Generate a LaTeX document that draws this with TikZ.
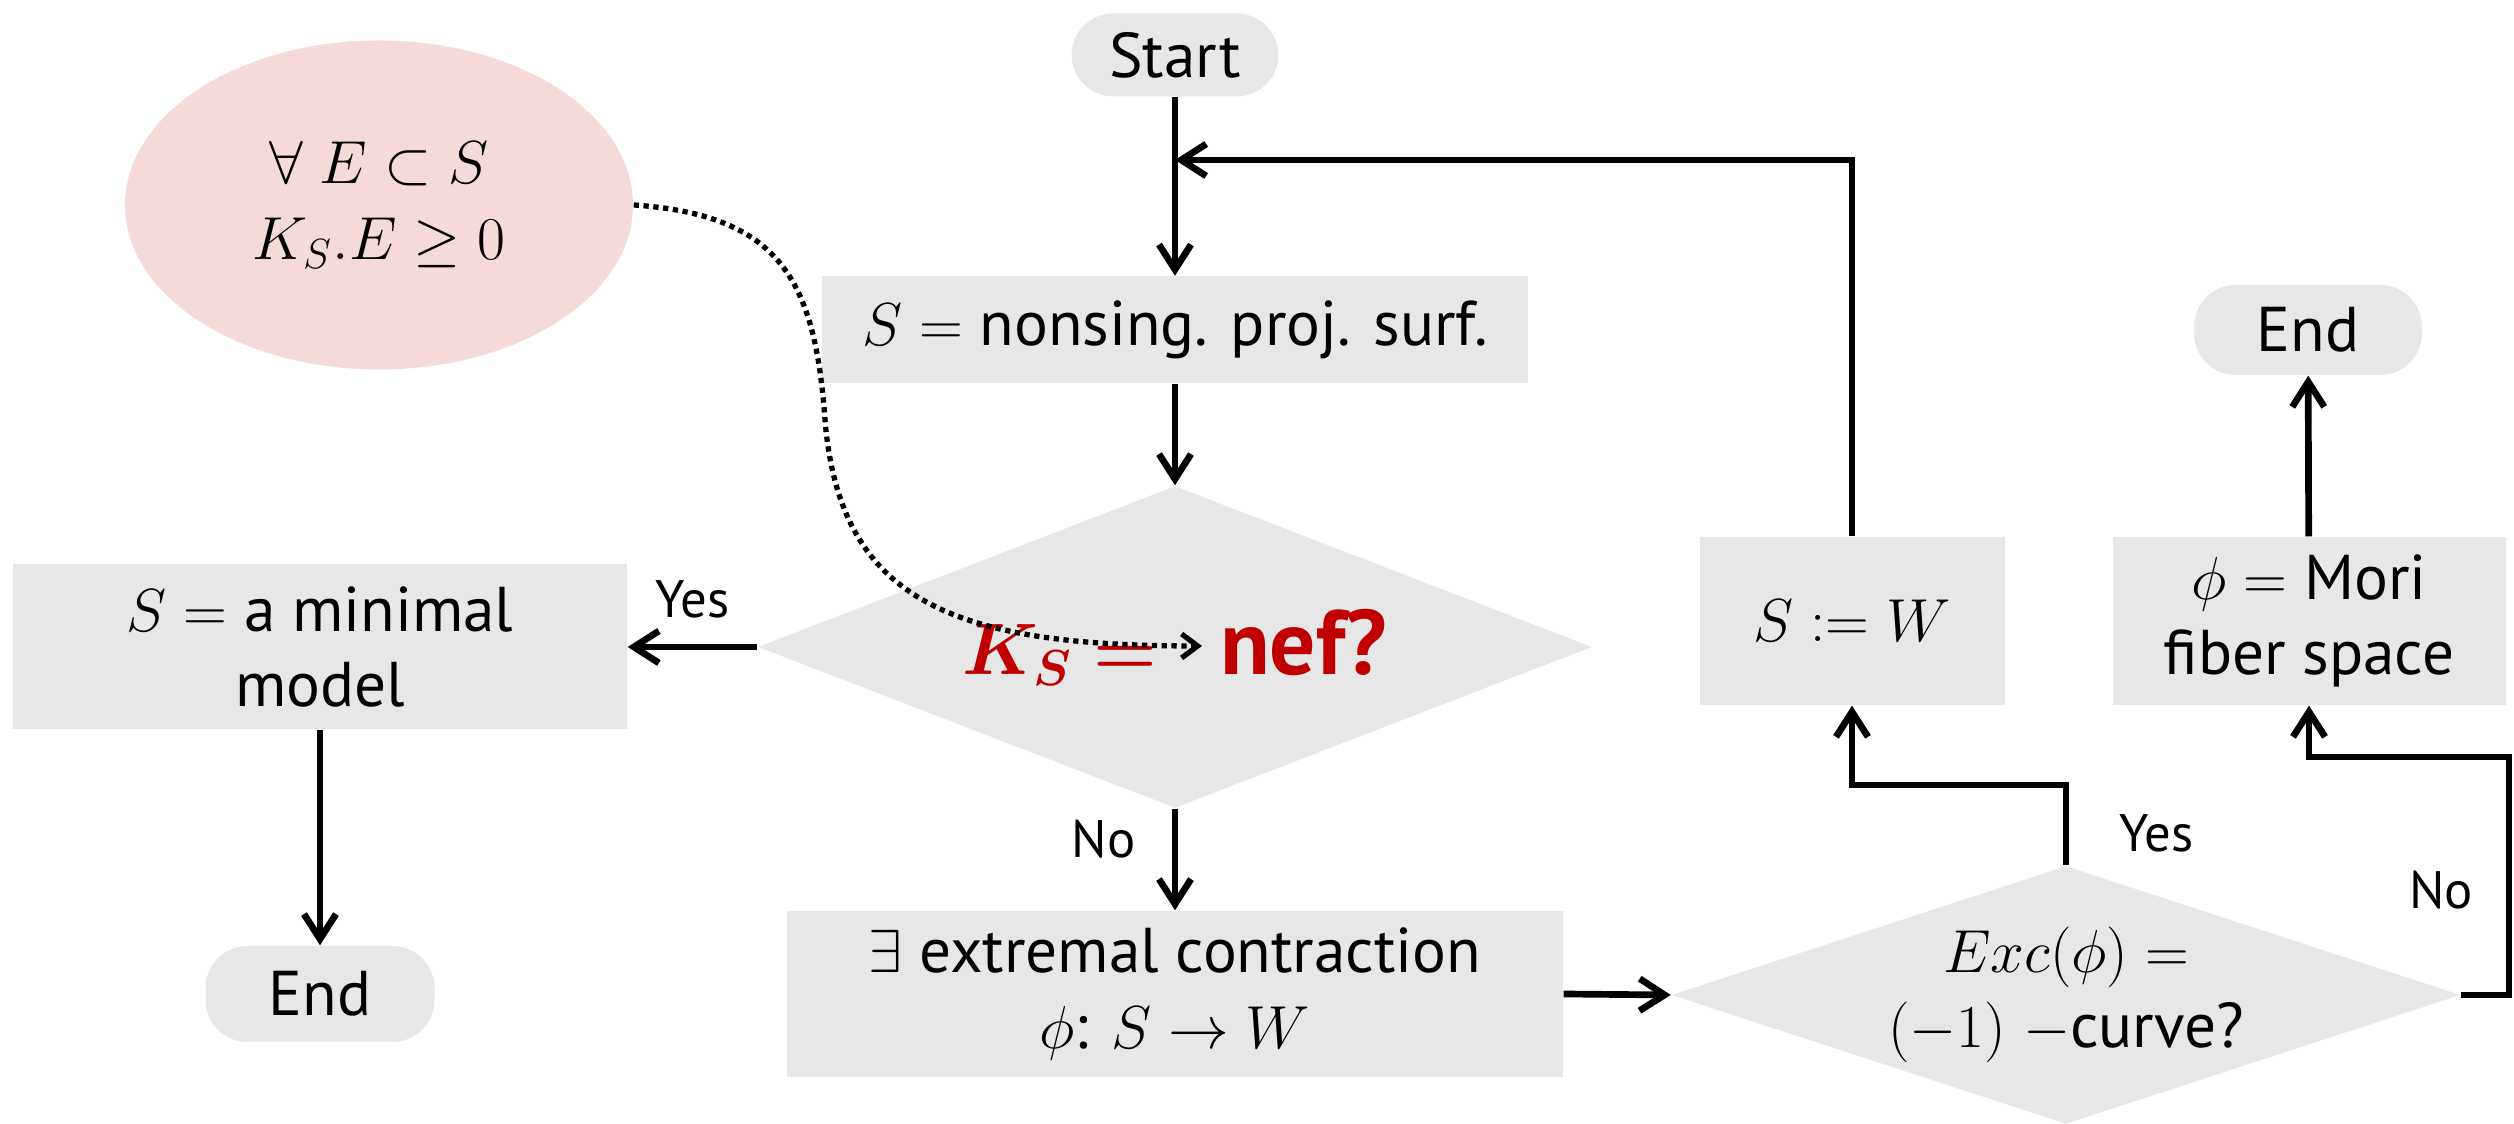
\documentclass[tikz,border=0pt]{standalone}
\usepackage[no-math]{fontspec}
\setmainfont{PT Sans}
\usepackage{amsmath}
\usepackage{amssymb}
\usepackage{bm}
\usepackage{xcolor}
\usepackage{tikz}
\usetikzlibrary{arrows.meta,positioning,shapes.geometric,calc}
\definecolor{chartGray}{RGB}{231,231,231}
\definecolor{condPink}{RGB}{245,218,218}
\definecolor{nefRed}{RGB}{192,0,0}
\newcommand{\bodyfont}{\fontsize{18}{21.5}\selectfont}

\begin{document}
\begin{tikzpicture}[
    box/.style={fill=chartGray, align=center, inner sep=0pt, font=\bodyfont},
    pill/.style={fill=chartGray, rounded corners=0.42cm, inner sep=0pt, font=\bodyfont},
    decision/.style={diamond, fill=chartGray, align=center, inner sep=0pt},
    flow/.style={line width=1.9pt, -{Straight Barb[length=2.5mm,width=3.2mm]}},
    dotflow/.style={line width=1.5pt, dash pattern=on 1.5pt off 1.3pt, -{Straight Barb[length=1.6mm,width=2.4mm]}},
    lbl/.style={font=\fontsize{15}{17}\selectfont},
]
    \useasboundingbox (0,0) rectangle (25.14,11.24);

    \node[pill, minimum width=2.07cm, minimum height=0.83cm] (start) at (11.75,10.69) {Start};
    \node[box, minimum width=7.06cm, minimum height=1.07cm] (surf) at (11.75,7.94) {$S=$ nonsing. proj. surf.};
    \node[decision, aspect=2.59, minimum width=8.34cm, minimum height=3.22cm, text=nefRed,
          font=\fontsize{26}{30}\selectfont\bfseries] (nef) at (11.75,4.77)
          {{\fontsize{22}{26}\selectfont$\bm{K_S =}$}\hspace{0.63cm}nef?};
    \node[ellipse, fill=condPink, minimum width=5.08cm, minimum height=3.29cm, inner sep=0pt,
          align=center, font=\bodyfont] (cond) at (3.79,9.19) {$\forall\ E\subset S$\\$K_S.E\geq 0$};
    \node[box, minimum width=6.14cm, minimum height=1.65cm] (minimal) at (3.20,4.77) {$S=$ a minimal\\model};
    \node[pill, minimum width=2.29cm, minimum height=0.96cm] (endL) at (3.20,1.30) {End};
    \node[box, minimum width=7.76cm, minimum height=1.66cm] (contr) at (11.75,1.30) {$\exists$ extremal contraction\\$\phi$: $S\rightarrow W$};
    \node[decision, aspect=3.06, minimum width=7.89cm, minimum height=2.58cm, font=\bodyfont] (exc) at (20.66,1.29) {$Exc(\phi) =$\\$(-1)$ $-$curve?};
    \node[box, minimum width=3.05cm, minimum height=1.68cm] (assign) at (18.52,5.03) {$S \mathrel{:=} W$};
    \node[box, minimum width=3.93cm, minimum height=1.68cm] (mori) at (23.09,5.03) {$\phi=$ Mori\\fiber space};
    \node[pill, minimum width=2.28cm, minimum height=0.90cm] (endR) at (23.08,7.94) {End};

    \coordinate (loopin) at (11.75,9.64);
    \coordinate (yesbend) at (20.66,3.39);
    \coordinate (nobend) at (25.09,3.67);
    \coordinate (nefpt) at (12.02,4.78);

    \draw[flow] (start) -- (surf);
    \draw[flow] (assign.north) |- (loopin);
    \draw[flow] (surf) -- (nef);
    \draw[flow] (nef.west) -- node[lbl, above=4pt] {Yes} (minimal.east);
    \draw[flow] (nef.south) -- node[lbl, pos=0.3, left=7pt] {No} (contr.north);
    \draw[flow] (minimal) -- (endL);
    \draw[flow] (contr.east) -- (exc.west);
    \draw[flow] (exc.north) -- node[lbl, pos=0.4, right=11pt] {Yes} (yesbend) -| (assign.south);
    \draw[flow] (exc.east) -| node[lbl, pos=0.72, left=6pt] {No} (nobend) -| (mori.south);
    \draw[flow] (mori) -- (endR);
    \draw[dotflow] (cond.east) .. controls (7.80,9.09) and (8.15,8.44) .. (8.25,7.04)
        .. controls (8.40,5.24) and (9.50,4.78) .. (nefpt);
\end{tikzpicture}
\end{document}
